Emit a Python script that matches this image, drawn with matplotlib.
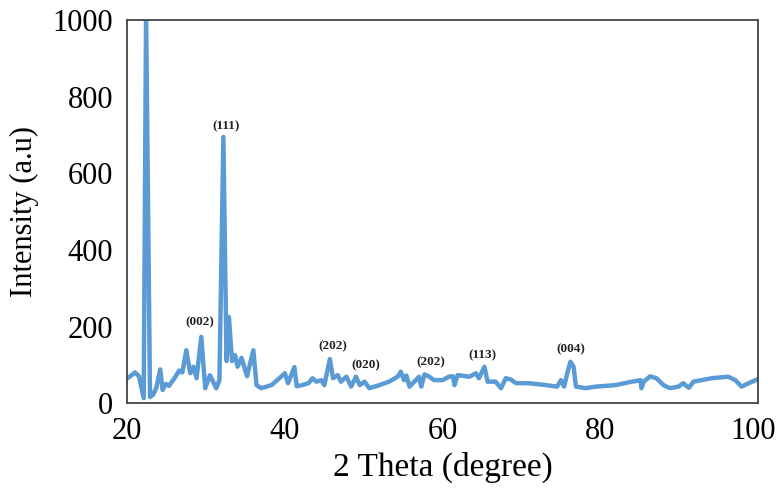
import matplotlib
matplotlib.use("Agg")
import matplotlib.pyplot as plt
import matplotlib.transforms as mtransforms

# XRD pattern
two_theta = [
    20.0, 20.2, 21.0, 21.5, 22.1, 22.4, 22.9, 23.3, 23.7, 24.2, 24.5, 24.9,
    25.3, 26.0, 26.6, 27.0, 27.5, 28.0, 28.4, 28.8, 29.4, 29.9, 30.5, 31.3,
    31.7, 32.2, 32.6, 32.9, 33.3, 33.7, 34.0, 34.5, 35.2, 36.0, 36.4, 37.0,
    38.3, 39.3, 40.0, 40.4, 41.2, 41.5, 42.2, 43.0, 43.5, 44.0, 44.6, 45.0,
    45.7, 46.1, 46.7, 47.1, 47.8, 48.4, 49.0, 49.5, 50.1, 50.7, 52.0, 53.2,
    54.3, 54.7, 55.1, 55.4, 55.8, 56.6, 57.0, 57.3, 57.7, 58.3, 58.9, 60.0,
    60.8, 61.3, 61.5, 61.9, 63.4, 64.2, 64.6, 65.3, 65.7, 66.7, 67.4, 68.0,
    68.6, 69.3, 70.9, 73.1, 74.5, 75.0, 75.4, 75.8, 76.2, 76.6, 76.9, 78.1,
    79.4, 81.9, 84.0, 85.1, 85.2, 85.5, 86.3, 87.1, 88.0, 88.8, 89.9, 90.5,
    91.2, 91.8, 94.1, 96.2, 97.1, 97.9, 98.8, 99.9,
]
intensity = [
    65, 67, 80, 70, 13, 1020, 16, 22, 40, 88, 34, 50,
    45, 65, 85, 80, 138, 78, 95, 65, 173, 39, 73, 39,
    60, 695, 110, 225, 110, 125, 95, 118, 70, 138, 47, 39,
    47, 65, 78, 52, 94, 44, 47, 52, 65, 56, 60, 47,
    115, 65, 73, 56, 69, 43, 69, 47, 56, 39, 47, 56,
    69, 82, 60, 72, 43, 60, 69, 43, 75, 69, 60, 60,
    69, 70, 47, 73, 69, 78, 65, 95, 56, 56, 39, 65,
    62, 52, 52, 47, 43, 60, 43, 78, 108, 95, 43, 39,
    43, 47, 56, 60, 39, 56, 70, 65, 47, 39, 43, 52,
    40, 56, 65, 69, 60, 43, 52, 62,
]

# peak labels
peak_labels = ["(111)", "(002)", "(202)", "(020)", "(202)", "(113)", "(004)"]
peak_x = [32.5, 29.2, 46.1, 50.3, 58.5, 65.1, 76.2]
peak_y = [723, 211, 149, 99, 106, 125, 141]

plt.rcParams["font.family"] = ["Liberation Serif", "DejaVu Serif"]

fig = plt.figure(figsize=(7.8, 4.91), dpi=100)
ax = fig.add_axes([0.163, 0.179, 0.809, 0.780])

ax.plot(two_theta, intensity, color="#5B9BD5", lw=3.2, solid_joinstyle="round")

for lab, x, y in zip(peak_labels, peak_x, peak_y):
    ax.text(x, y, lab, fontsize=9.5, fontweight="bold", ha="center", va="center",
            color="#222222")

ax.set_xlim(20, 100)
ax.set_ylim(0, 1000)
ax.set_xticks([20, 40, 60, 80, 100])
ax.set_yticks([0, 200, 400, 600, 800, 1000])
ax.tick_params(length=0, labelsize=22, pad=10)
ax.set_xlabel("2 Theta (degree)", fontsize=24, labelpad=4)
ax.set_ylabel("Intensity (a.u)", fontsize=22, labelpad=10)

# last x label sits a little left so it stays inside the figure
last = ax.get_xticklabels()[-1]
last.set_transform(last.get_transform() +
                   mtransforms.ScaledTranslation(-5 / 100, 0, fig.dpi_scale_trans))

for s in ax.spines.values():
    s.set_color("#444444")
    s.set_linewidth(1.3)

fig.savefig("out.png", dpi=100)
